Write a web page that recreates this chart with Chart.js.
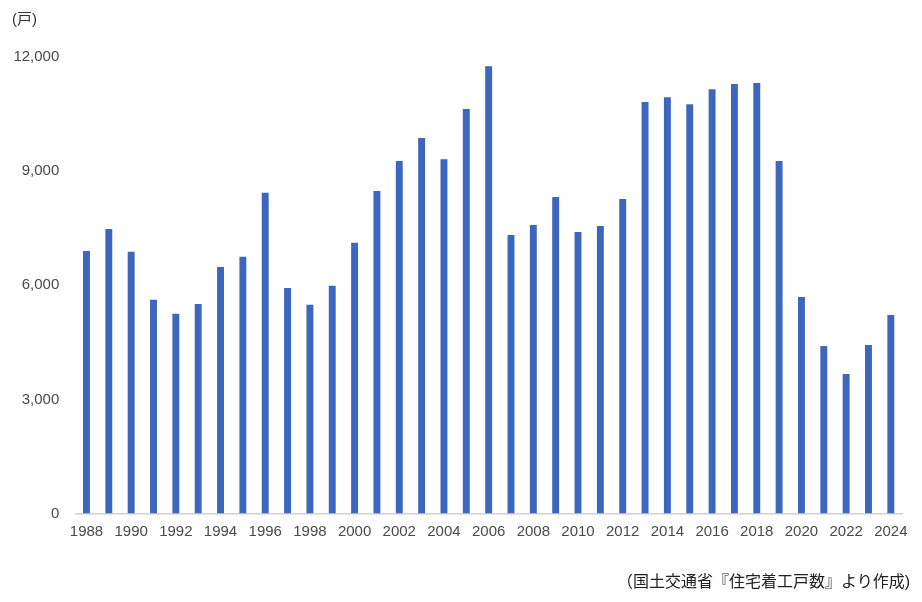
<!DOCTYPE html>
<html>
<head>
<meta charset="utf-8">
<script src="https://cdn.jsdelivr.net/npm/chart.js@4"></script>
<style>
html,body{margin:0;padding:0;background:#fff;}
#wrap{position:relative;width:922px;height:602px;}
#unit{position:absolute;left:12px;top:7px;font:15px "Liberation Sans","Noto Sans CJK JP",sans-serif;color:#333;}
#src{position:absolute;right:12px;top:568px;font:16px "Liberation Sans","Noto Sans CJK JP",sans-serif;color:#222;white-space:nowrap;}
canvas{position:absolute;left:0;top:0;}
</style>
</head>
<body>
<div id="wrap">
<canvas id="c" width="922" height="602"></canvas>
<div id="unit">(戸)</div>
<div id="src">（国土交通省『住宅着工戸数』より作成)</div>
</div>
<script>
const years = ["1988","1989","1990","1991","1992","1993","1994","1995","1996","1997","1998","1999","2000","2001","2002","2003","2004","2005","2006","2007","2008","2009","2010","2011","2012","2013","2014","2015","2016","2017","2018","2019","2020","2021","2022","2023","2024"];
const housingStarts = [6900,7480,6880,5620,5250,5510,6480,6750,8430,5930,5490,5990,7120,8475,9265,9870,9315,10630,11760,7320,7585,8320,7400,7555,8265,10815,10945,10760,11155,11290,11315,9265,5690,4405,3665,4430,5220];
const yTicks = [0,3000,6000,9000,12000];

const FONT = "'Liberation Sans','Noto Sans CJK JP',sans-serif";
new Chart(document.getElementById('c'), {
  type: 'bar',
  data: {
    labels: years,
    datasets: [{
      data: housingStarts,
      backgroundColor: '#3D67BF',
      categoryPercentage: 1,
      barPercentage: 0.31
    }]
  },
  options: {
    responsive: false,
    animation: false,
    devicePixelRatio: 1,
    layout: { padding: { top: 57, right: 20, bottom: 48.5, left: 0 } },
    plugins: { legend: { display: false }, tooltip: { enabled: false }, title: { display: false } },
    scales: {
      x: {
        grid: { display: false, drawTicks: false },
        border: { display: true, color: '#d0d0d0', width: 1.5 },
        ticks: {
          autoSkip: false, maxRotation: 0, minRotation: 0, padding: 9,
          color: '#4a4a4a', font: { family: FONT, size: 15 },
          callback: function(v, i) { return i % 2 === 0 ? years[i] : ''; }
        },
        afterFit: function(s) { s.height = 40; }
      },
      y: {
        min: 0, max: 12000,
        grid: { display: false, drawTicks: false },
        border: { display: false },
        afterBuildTicks: function(s) { s.ticks = yTicks.map(v => ({ value: v })); },
        ticks: {
          padding: 16, color: '#4a4a4a', font: { family: FONT, size: 15 },
          callback: function(v) { return v.toLocaleString('en-US'); }
        },
        afterFit: function(s) { s.width = 75.3; }
      }
    }
  }
});
</script>
</body>
</html>
